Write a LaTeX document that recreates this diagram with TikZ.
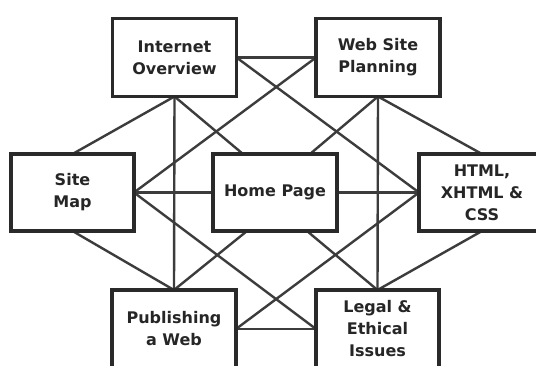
\documentclass[tikz,border=0pt]{standalone}
\usepackage{fontspec}
\setmainfont{DejaVu Sans}
\usetikzlibrary{backgrounds}
\definecolor{boxline}{HTML}{2A2A2A}
\definecolor{conn}{HTML}{3C3C3C}
\definecolor{txt}{HTML}{262626}
\tikzset{
  topic/.style={draw=boxline, line width=3.5pt, fill=white, rectangle,
    inner sep=0pt, outer sep=0pt, align=center, text=txt,
    font=\fontsize{16}{22}\selectfont\bfseries},
  link/.style={draw=conn, line width=2.4pt}
}
\begin{document}
\begin{tikzpicture}[x=1pt,y=-1pt]
\useasboundingbox (0,0) rectangle (536,365);
\clip (0,0) rectangle (536,365);
\node[topic, minimum width=124pt, minimum height=78pt] (io) at (174.5,57.5) {Internet\\Overview};
\node[topic, minimum width=124pt, minimum height=78pt] (wsp) at (378,57.5) {Web Site\\Planning};
\node[topic, minimum width=123pt, minimum height=77pt] (sm) at (72.5,192.5) {Site\\Map};
\node[topic, minimum width=124pt, minimum height=77pt] (hp) at (275,192.5) {Home Page};
\node[topic, minimum width=126pt, minimum height=77pt] (html) at (482,192.5) {HTML,\\XHTML \&\\CSS};
\node[topic, minimum width=124pt, minimum height=78pt] (pub) at (174,329) {Publishing\\a Web};
\node[topic, minimum width=123pt, minimum height=78pt] (legal) at (377.5,329) {Legal \&\\Ethical\\Issues};
\begin{scope}[on background layer]
\fill[white] (0,0) rectangle (536,365);
\draw[link] (io.east) -- (wsp.west);
\draw[link] (io.south) -- (sm.north);
\draw[link] (io.south) -- (pub.north);
\draw[link] (io.south) -- ([xshift=-32pt]hp.north);
\draw[link] (io.east) -- (html.west);
\draw[link] (wsp.west) -- (sm.east);
\draw[link] (wsp.south) -- (legal.north);
\draw[link] (wsp.south) -- ([xshift=35pt]hp.north);
\draw[link] (wsp.south) -- (html.north);
\draw[link] (sm.east) -- (hp.west);
\draw[link] (hp.east) -- (html.west);
\draw[link] (sm.south) -- (pub.north);
\draw[link] ([xshift=-28pt]hp.south) -- (pub.north);
\draw[link] (sm.east) -- (legal.west);
\draw[link] (pub.east) -- (html.west);
\draw[link] (pub.east) -- (legal.west);
\draw[link] ([xshift=32pt]hp.south) -- (legal.north);
\draw[link] (html.south) -- (legal.north);
\end{scope}
\end{tikzpicture}
\end{document}
